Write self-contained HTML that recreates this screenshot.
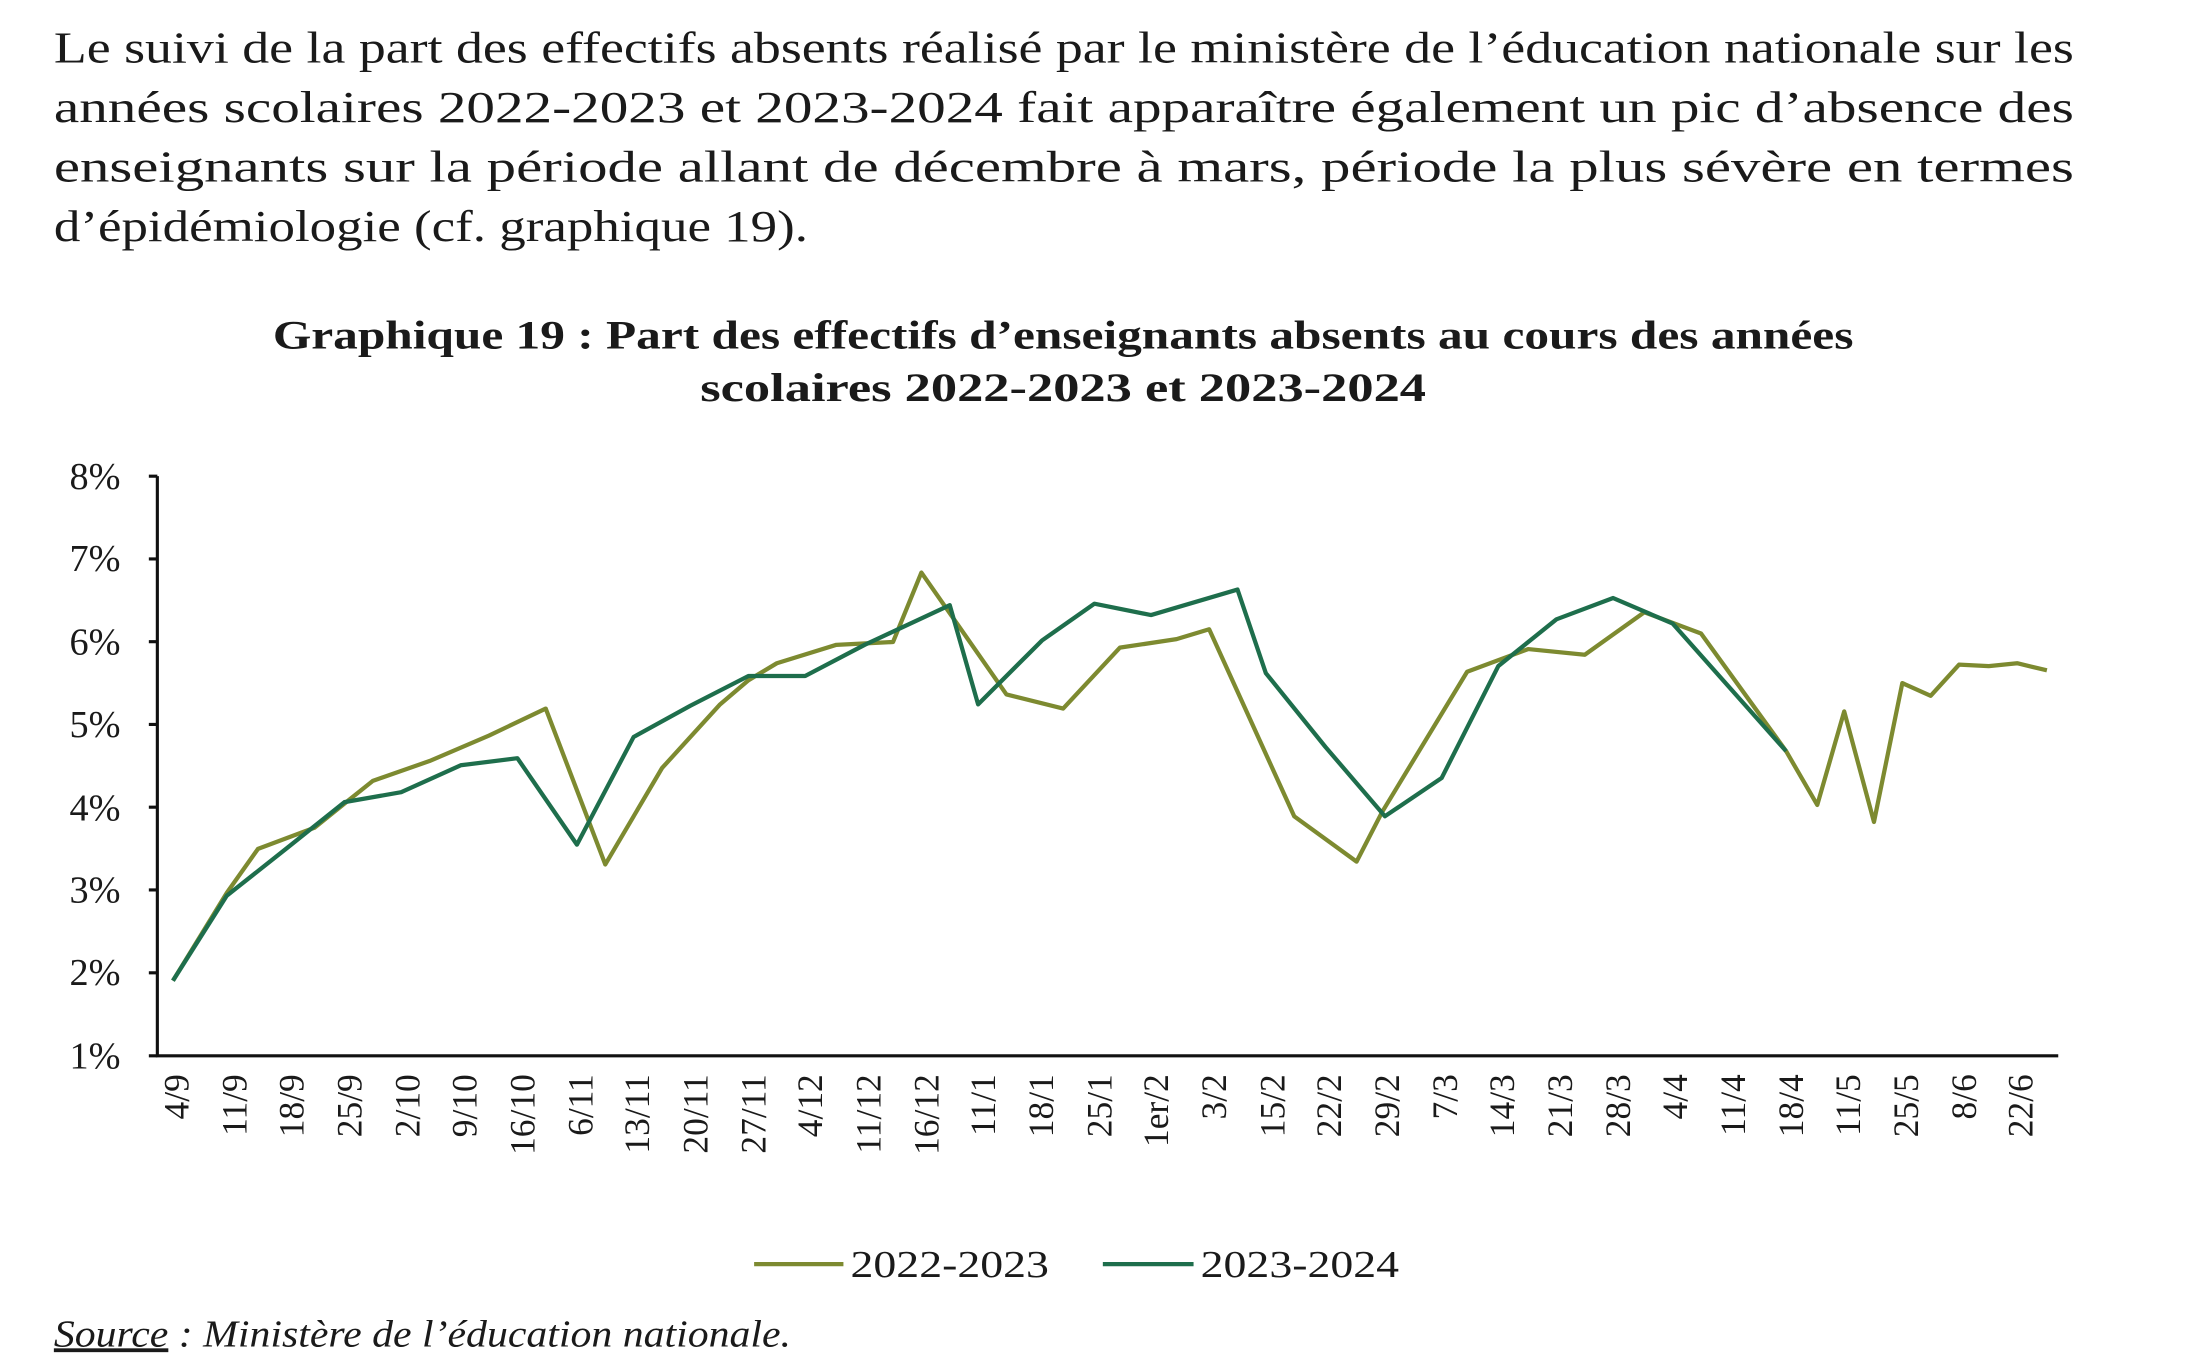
<!DOCTYPE html>
<html><head><meta charset="utf-8"><style>html,body{margin:0;padding:0;background:#fff}svg{display:block}</style></head>
<body>
<svg width="2200" height="1369" viewBox="0 0 1552 966" preserveAspectRatio="none" xmlns="http://www.w3.org/2000/svg" font-family="'Liberation Serif', serif" fill="#1a1a1a">
<g font-size="31">
<text x="38" y="44" textLength="1425" lengthAdjust="spacingAndGlyphs">Le suivi de la part des effectifs absents réalisé par le ministère de l’éducation nationale sur les</text>
<text x="38" y="86" textLength="1425" lengthAdjust="spacingAndGlyphs">années  scolaires  2022-2023  et  2023-2024  fait  apparaître  également  un  pic  d’absence  des</text>
<text x="38" y="128" textLength="1425" lengthAdjust="spacingAndGlyphs">enseignants  sur  la  période  allant  de  décembre  à  mars,  période  la  plus  sévère  en  termes</text>
<text x="38" y="170" textLength="532" lengthAdjust="spacingAndGlyphs">d’épidémiologie (cf. graphique 19).</text>
</g>
<g font-size="28" font-weight="bold" text-anchor="middle">
<text x="750" y="246" textLength="1115" lengthAdjust="spacingAndGlyphs">Graphique 19 : Part des effectifs d’enseignants absents au cours des années</text>
<text x="750" y="283" textLength="512" lengthAdjust="spacingAndGlyphs">scolaires 2022-2023 et 2023-2024</text>
</g>
<g stroke="#111" stroke-width="2.2" fill="none">
<path d="M111 336V745H1452"/>
<path d="M105 336H111M105 394.4H111M105 452.8H111M105 511.2H111M105 569.6H111M105 628H111M105 686.4H111M105 745H111"/>
</g>
<g font-size="27" text-anchor="end">
<text x="85" y="345">8%</text><text x="85" y="403">7%</text><text x="85" y="462">6%</text><text x="85" y="520">5%</text><text x="85" y="579">4%</text><text x="85" y="637">3%</text><text x="85" y="695">2%</text><text x="85" y="754">1%</text>
</g>
<g font-size="25" text-anchor="end">
<text transform="translate(133,758) rotate(-90)">4/9</text>
<text transform="translate(174,758) rotate(-90)">11/9</text>
<text transform="translate(214,758) rotate(-90)">18/9</text>
<text transform="translate(255,758) rotate(-90)">25/9</text>
<text transform="translate(296,758) rotate(-90)">2/10</text>
<text transform="translate(336,758) rotate(-90)">9/10</text>
<text transform="translate(377,758) rotate(-90)">16/10</text>
<text transform="translate(418,758) rotate(-90)">6/11</text>
<text transform="translate(458,758) rotate(-90)">13/11</text>
<text transform="translate(499,758) rotate(-90)">20/11</text>
<text transform="translate(540,758) rotate(-90)">27/11</text>
<text transform="translate(580,758) rotate(-90)">4/12</text>
<text transform="translate(621,758) rotate(-90)">11/12</text>
<text transform="translate(662,758) rotate(-90)">16/12</text>
<text transform="translate(702,758) rotate(-90)">11/1</text>
<text transform="translate(743,758) rotate(-90)">18/1</text>
<text transform="translate(784,758) rotate(-90)">25/1</text>
<text transform="translate(824,758) rotate(-90)">1er/2</text>
<text transform="translate(865,758) rotate(-90)">3/2</text>
<text transform="translate(906,758) rotate(-90)">15/2</text>
<text transform="translate(946,758) rotate(-90)">22/2</text>
<text transform="translate(987,758) rotate(-90)">29/2</text>
<text transform="translate(1028,758) rotate(-90)">7/3</text>
<text transform="translate(1068,758) rotate(-90)">14/3</text>
<text transform="translate(1109,758) rotate(-90)">21/3</text>
<text transform="translate(1150,758) rotate(-90)">28/3</text>
<text transform="translate(1190,758) rotate(-90)">4/4</text>
<text transform="translate(1231,758) rotate(-90)">11/4</text>
<text transform="translate(1272,758) rotate(-90)">18/4</text>
<text transform="translate(1312,758) rotate(-90)">11/5</text>
<text transform="translate(1353,758) rotate(-90)">25/5</text>
<text transform="translate(1394,758) rotate(-90)">8/6</text>
<text transform="translate(1434,758) rotate(-90)">22/6</text>
</g>
<polyline fill="none" stroke="#7d8a30" stroke-width="3" stroke-linejoin="round" points="122,692 160,630 182,599 222,584 243,567 263,551 303,537 345,519 385,500 427,610 467,542 508,497 528,480 548,468 590,455 630,453 650,404 710,490 750,500 790,457 830,451 853,444 913,576 957,608 975,573 1035,474 1078,458 1118,462 1160,432 1200,447 1260,530 1282,568 1301,502 1322,580 1342,482 1362,491 1382,469 1403,470 1423,468 1444,473"/>
<polyline fill="none" stroke="#1e6e4c" stroke-width="3" stroke-linejoin="round" points="122,692 160,632 203,598 243,566 283,559 325,540 365,535 407,596 447,520 487,498 528,477 568,477 610,455 670,427 690,497 735,452 772,426 812,434 873,416 893,475 935,527 977,576 1017,549 1057,470 1098,437 1138,422 1180,440 1260,530"/>
<g font-size="27">
<line x1="532" y1="892" x2="595" y2="892" stroke="#7d8a30" stroke-width="3"/>
<text x="600" y="901" textLength="140" lengthAdjust="spacingAndGlyphs">2022-2023</text>
<line x1="778" y1="892" x2="842" y2="892" stroke="#1e6e4c" stroke-width="3"/>
<text x="847" y="901" textLength="140" lengthAdjust="spacingAndGlyphs">2023-2024</text>
</g>
<text x="38" y="950" font-size="27" font-style="italic" textLength="520" lengthAdjust="spacingAndGlyphs"><tspan text-decoration="underline">Source</tspan> : Ministère de l’éducation nationale.</text>
</svg>
</body></html>
